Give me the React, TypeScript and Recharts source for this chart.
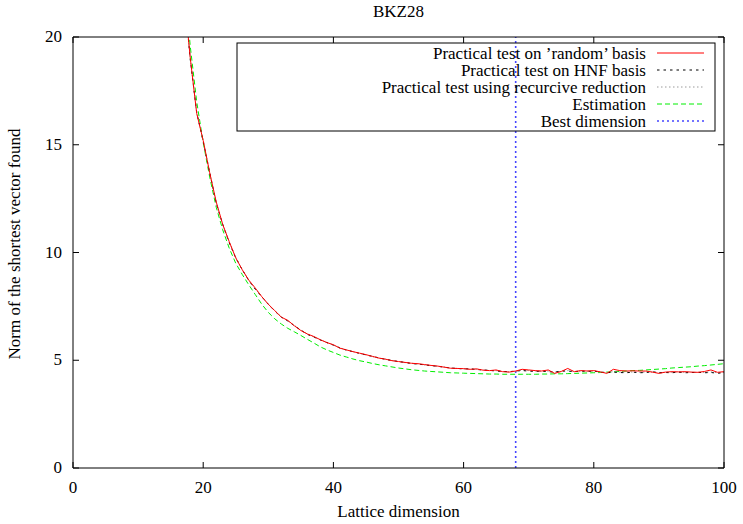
import React from "react";
import { LineChart, Line, XAxis, YAxis, ReferenceLine } from "recharts";

const FONT = "'Liberation Serif', 'Times New Roman', serif";

const dims = [
  17, 18, 19, 20, 21, 22, 23, 24, 25, 26, 27, 28, 29, 30, 31, 32, 33, 34, 35, 36,
  37, 38, 39, 40, 41, 42, 43, 44, 45, 46, 47, 48, 49, 50, 51, 52, 53, 54, 55, 56,
  57, 58, 59, 60, 61, 62, 63, 64, 65, 66, 67, 68, 69, 70, 71, 72, 73, 74, 75, 76,
  77, 78, 79, 80, 81, 82, 83, 84, 85, 86, 87, 88, 89, 90, 91, 92, 93, 94, 95, 96,
  97, 98, 99, 100,
];

const randomBasis = [
  22.2, 19.07, 16.46, 15.2, 13.7, 12.35, 11.3, 10.5, 9.75, 9.2, 8.72, 8.35, 7.95, 7.6, 7.3, 7.0, 6.85, 6.6, 6.38, 6.22,
  6.1, 5.95, 5.82, 5.72, 5.56, 5.48, 5.4, 5.33, 5.26, 5.18, 5.1, 5.05, 4.98, 4.94, 4.9, 4.86, 4.84, 4.8, 4.76, 4.73,
  4.68, 4.63, 4.62, 4.61, 4.58, 4.6, 4.54, 4.52, 4.55, 4.47, 4.45, 4.5, 4.58, 4.55, 4.52, 4.5, 4.55, 4.39, 4.48, 4.62,
  4.47, 4.52, 4.5, 4.52, 4.46, 4.39, 4.58, 4.52, 4.5, 4.51, 4.5, 4.5, 4.45, 4.39, 4.45, 4.47, 4.46, 4.47, 4.45, 4.44,
  4.48, 4.55, 4.44, 4.47,
];

const hnfBasis = [
  22.3, 19.0, 16.5, 15.15, 13.7, 12.3, 11.3, 10.45, 9.75, 9.2, 8.7, 8.3, 7.95, 7.6, 7.28, 7.0, 6.82, 6.6, 6.4, 6.2,
  6.08, 5.94, 5.82, 5.7, 5.57, 5.47, 5.4, 5.32, 5.25, 5.18, 5.11, 5.04, 4.99, 4.94, 4.9, 4.85, 4.82, 4.79, 4.75, 4.72,
  4.68, 4.64, 4.62, 4.6, 4.6, 4.57, 4.55, 4.53, 4.5, 4.48, 4.47, 4.5, 4.52, 4.5, 4.48, 4.5, 4.47, 4.45, 4.5, 4.5,
  4.47, 4.5, 4.48, 4.5, 4.45, 4.42, 4.45, 4.43, 4.42, 4.45, 4.42, 4.43, 4.47, 4.42, 4.43, 4.42, 4.45, 4.42, 4.43, 4.44,
  4.42, 4.43, 4.4, 4.42,
];

const recursiveReduction = [
  22.3, 19.0, 16.5, 15.2, 13.7, 12.3, 11.3, 10.5, 9.78, 9.2, 8.7, 8.32, 7.95, 7.58, 7.3, 7.02, 6.82, 6.62, 6.4, 6.22,
  6.08, 5.95, 5.83, 5.7, 5.58, 5.48, 5.4, 5.32, 5.25, 5.17, 5.1, 5.05, 4.99, 4.93, 4.89, 4.86, 4.82, 4.78, 4.76, 4.72,
  4.69, 4.64, 4.62, 4.6, 4.59, 4.58, 4.55, 4.52, 4.52, 4.48, 4.46, 4.48, 4.54, 4.52, 4.5, 4.48, 4.5, 4.45, 4.48, 4.52,
  4.48, 4.5, 4.5, 4.49, 4.46, 4.43, 4.47, 4.45, 4.46, 4.45, 4.44, 4.45, 4.45, 4.43, 4.44, 4.45, 4.44, 4.45, 4.44, 4.43,
  4.44, 4.46, 4.42, 4.43,
];

const estimation = [
  23.2, 19.6, 17.0, 15.1, 13.5, 12.1, 11.05, 10.2, 9.5, 8.98, 8.5, 8.05, 7.6, 7.22, 6.92, 6.68, 6.48, 6.32, 6.15, 5.97,
  5.8, 5.62, 5.48, 5.36, 5.24, 5.15, 5.06, 4.98, 4.92, 4.85, 4.79, 4.74, 4.69, 4.64, 4.6, 4.56, 4.53, 4.5, 4.48, 4.46,
  4.44, 4.42, 4.41, 4.4, 4.39, 4.38, 4.37, 4.36, 4.36, 4.35, 4.35, 4.35, 4.35, 4.35, 4.35, 4.36, 4.36, 4.37, 4.37, 4.38,
  4.39, 4.4, 4.41, 4.42, 4.43, 4.45, 4.46, 4.48, 4.5, 4.52, 4.53, 4.55, 4.57, 4.59, 4.61, 4.64, 4.66, 4.68, 4.7, 4.73,
  4.75, 4.78, 4.81, 4.84,
];

const bestDimension = 68;

const xTicks = [0, 20, 40, 60, 80, 100];
const yTicks = [0, 5, 10, 15, 20];

const title = "BKZ28";
const xLabel = "Lattice dimension";
const yLabel = "Norm of the shortest vector found";

const series = [
  { key: "random", name: "Practical test on \u2019random\u2019 basis", color: "#ff0000", dash: undefined as string | undefined, width: 1 },
  { key: "hnf", name: "Practical test on HNF basis", color: "#000000", dash: "2.5 4", width: 1 },
  { key: "rec", name: "Practical test using recurcive reduction", color: "#9a9a9a", dash: "1.5 2.5", width: 1 },
  { key: "est", name: "Estimation", color: "#00ee00", dash: "5 3", width: 1 },
];
const bestLegend = { name: "Best dimension", color: "#4646ff", dash: "2 3", width: 1.6 };

const data = dims.map((d, i) => ({
  x: d,
  random: randomBasis[i],
  hnf: hnfBasis[i],
  rec: recursiveReduction[i],
  est: estimation[i],
}));

const W = 743;
const H = 524;
const PL = 73;
const PR = 724;
const PT = 37;
const PB = 468;
const TICK = 6;

const BottomTick = (props: any) => {
  const { x, y, payload } = props;
  return (
    <g>
      <line x1={x} y1={y} x2={x} y2={y - TICK} stroke="#000" strokeWidth={1} />
      <text x={x} y={y + 25} textAnchor="middle" fontFamily={FONT} fontSize={17} fill="#000">
        {payload.value}
      </text>
    </g>
  );
};
const TopTick = (props: any) => {
  const { x, y } = props;
  return <line x1={x} y1={y} x2={x} y2={y + TICK} stroke="#000" strokeWidth={1} />;
};
const LeftTick = (props: any) => {
  const { x, y, payload } = props;
  return (
    <g>
      <line x1={x} y1={y} x2={x + TICK} y2={y} stroke="#000" strokeWidth={1} />
      <text x={x - 11} y={y + 5} textAnchor="end" fontFamily={FONT} fontSize={17} fill="#000">
        {payload.value}
      </text>
    </g>
  );
};
const RightTick = (props: any) => {
  const { x, y } = props;
  return <line x1={x} y1={y} x2={x - TICK} y2={y} stroke="#000" strokeWidth={1} />;
};

const LEG = { left: 237, top: 43, right: 715, bottom: 131, textRight: 646, sx1: 657, sx2: 704, row0: 53, rowStep: 17.1 };

export default function App() {
  const legendItems = [
    ...series.map((s) => ({ name: s.name, color: s.color, dash: s.dash, width: s.width })),
    bestLegend,
  ];
  return (
    <div style={{ position: "absolute", left: 0, top: 0, width: W, height: H, background: "#fff" }}>
      <LineChart width={W} height={H} data={data} margin={{ top: 0, right: 0, bottom: 0, left: 0 }}>
        <XAxis
          xAxisId="b"
          dataKey="x"
          type="number"
          domain={[0, 100]}
          ticks={xTicks}
          orientation="bottom"
          height={H - PB}
          tickSize={0}
          tickMargin={0}
          tickLine={false}
          tick={BottomTick}
          axisLine={{ stroke: "#000", strokeWidth: 1 }}
          allowDataOverflow
          interval={0}
        />
        <XAxis
          xAxisId="t"
          dataKey="x"
          type="number"
          domain={[0, 100]}
          ticks={xTicks}
          orientation="top"
          height={PT}
          tickSize={0}
          tickMargin={0}
          tickLine={false}
          tick={TopTick}
          axisLine={{ stroke: "#000", strokeWidth: 1 }}
          allowDataOverflow
          interval={0}
        />
        <YAxis
          yAxisId="l"
          type="number"
          domain={[0, 20]}
          ticks={yTicks}
          orientation="left"
          width={PL}
          tickSize={0}
          tickMargin={0}
          tickLine={false}
          tick={LeftTick}
          axisLine={{ stroke: "#000", strokeWidth: 1 }}
          allowDataOverflow
          interval={0}
        />
        <YAxis
          yAxisId="r"
          type="number"
          domain={[0, 20]}
          ticks={yTicks}
          orientation="right"
          width={W - PR}
          tickSize={0}
          tickMargin={0}
          tickLine={false}
          tick={RightTick}
          axisLine={{ stroke: "#000", strokeWidth: 1 }}
          allowDataOverflow
          interval={0}
        />
        <ReferenceLine
          x={bestDimension}
          xAxisId="b"
          yAxisId="l"
          stroke={bestLegend.color}
          strokeWidth={bestLegend.width}
          strokeDasharray={bestLegend.dash}
        />
        {[...series].reverse().map((s) => (
          <Line
            key={s.key}
            xAxisId="b"
            yAxisId="l"
            dataKey={s.key}
            name={s.name}
            type="linear"
            stroke={s.color}
            strokeWidth={s.width}
            strokeDasharray={s.dash}
            dot={false}
            activeDot={false}
            isAnimationActive={false}
          />
        ))}
      </LineChart>
      <svg
        width={W}
        height={H}
        style={{ position: "absolute", left: 0, top: 0, pointerEvents: "none" }}
      >
        <text x={(PL + PR) / 2} y={17} textAnchor="middle" fontFamily={FONT} fontSize={17} fill="#000">
          {title}
        </text>
        <text x={(PL + PR) / 2} y={517} textAnchor="middle" fontFamily={FONT} fontSize={17} fill="#000">
          {xLabel}
        </text>
        <text
          x={0}
          y={0}
          transform={`translate(20, 244) rotate(-90)`}
          textAnchor="middle"
          fontFamily={FONT}
          fontSize={17}
          fill="#000"
        >
          {yLabel}
        </text>
        <rect
          x={LEG.left}
          y={LEG.top}
          width={LEG.right - LEG.left}
          height={LEG.bottom - LEG.top}
          fill="none"
          stroke="#000"
          strokeWidth={1}
        />
        {legendItems.map((it, i) => {
          const cy = Math.round(LEG.row0 + i * LEG.rowStep);
          return (
            <g key={it.name}>
              <text x={LEG.textRight} y={cy + 5.5} textAnchor="end" fontFamily={FONT} fontSize={17} fill="#000">
                {it.name}
              </text>
              <line
                x1={LEG.sx1}
                y1={cy}
                x2={LEG.sx2}
                y2={cy}
                stroke={it.color}
                strokeWidth={it.width}
                strokeDasharray={it.dash}
              />
            </g>
          );
        })}
      </svg>
    </div>
  );
}
